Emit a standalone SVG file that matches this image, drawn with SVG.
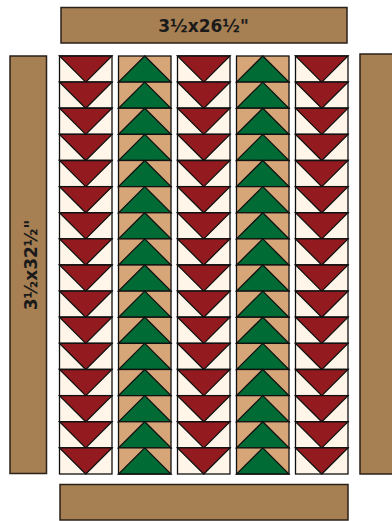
<svg xmlns="http://www.w3.org/2000/svg" xmlns:xlink="http://www.w3.org/1999/xlink" width="392" height="521" viewBox="0 0 392 521">
<style>
.bar{fill:#A67F53;stroke:#2a2118;stroke-width:1.5}
.cell{stroke:#111;stroke-width:1.3;stroke-linejoin:miter}
.cream{fill:#FFF5E8}
.tan{fill:#D6A679}
.red{fill:#931B1F}
.green{fill:#016B36}
.lbl{font-family:"DejaVu Sans","Liberation Sans",Arial,sans-serif;font-weight:bold;font-size:17px;fill:#1a1a1a}
</style>
<defs>
<g id="r">
<rect class="cell cream" x="0" y="0" width="52.5" height="26.125"/>
<polygon class="cell red" points="0,0 52.5,0 26.25,26.125"/>
</g>
<g id="g">
<rect class="cell tan" x="0" y="0" width="52.5" height="26.125"/>
<polygon class="cell green" points="0,26.125 52.5,26.125 26.25,0"/>
</g>
</defs>
<g id="top-border"><rect class="bar" x="61" y="7.5" width="286" height="35.5"/><text class="lbl" x="203.5" y="32" text-anchor="middle">3½x26½"</text></g>
<g id="left-border"><rect class="bar" x="10" y="56" width="36.5" height="417.5"/><text class="lbl" transform="translate(36.5,265) rotate(-90)" text-anchor="middle">3½x32½"</text></g>
<g id="right-border"><rect class="bar" x="360" y="54" width="40" height="420"/></g>
<g id="bottom-border"><rect class="bar" x="60" y="484.5" width="288" height="35.5"/></g>
<g id="col1">
<use href="#r" x="59.5" y="56"/><use href="#r" x="59.5" y="82.125"/><use href="#r" x="59.5" y="108.25"/><use href="#r" x="59.5" y="134.375"/><use href="#r" x="59.5" y="160.5"/><use href="#r" x="59.5" y="186.625"/><use href="#r" x="59.5" y="212.75"/><use href="#r" x="59.5" y="238.875"/><use href="#r" x="59.5" y="265"/><use href="#r" x="59.5" y="291.125"/><use href="#r" x="59.5" y="317.25"/><use href="#r" x="59.5" y="343.375"/><use href="#r" x="59.5" y="369.5"/><use href="#r" x="59.5" y="395.625"/><use href="#r" x="59.5" y="421.75"/><use href="#r" x="59.5" y="447.875"/>
</g>
<g id="col2">
<use href="#g" x="118.5" y="56"/><use href="#g" x="118.5" y="82.125"/><use href="#g" x="118.5" y="108.25"/><use href="#g" x="118.5" y="134.375"/><use href="#g" x="118.5" y="160.5"/><use href="#g" x="118.5" y="186.625"/><use href="#g" x="118.5" y="212.75"/><use href="#g" x="118.5" y="238.875"/><use href="#g" x="118.5" y="265"/><use href="#g" x="118.5" y="291.125"/><use href="#g" x="118.5" y="317.25"/><use href="#g" x="118.5" y="343.375"/><use href="#g" x="118.5" y="369.5"/><use href="#g" x="118.5" y="395.625"/><use href="#g" x="118.5" y="421.75"/><use href="#g" x="118.5" y="447.875"/>
</g>
<g id="col3">
<use href="#r" x="177.5" y="56"/><use href="#r" x="177.5" y="82.125"/><use href="#r" x="177.5" y="108.25"/><use href="#r" x="177.5" y="134.375"/><use href="#r" x="177.5" y="160.5"/><use href="#r" x="177.5" y="186.625"/><use href="#r" x="177.5" y="212.75"/><use href="#r" x="177.5" y="238.875"/><use href="#r" x="177.5" y="265"/><use href="#r" x="177.5" y="291.125"/><use href="#r" x="177.5" y="317.25"/><use href="#r" x="177.5" y="343.375"/><use href="#r" x="177.5" y="369.5"/><use href="#r" x="177.5" y="395.625"/><use href="#r" x="177.5" y="421.75"/><use href="#r" x="177.5" y="447.875"/>
</g>
<g id="col4">
<use href="#g" x="236.5" y="56"/><use href="#g" x="236.5" y="82.125"/><use href="#g" x="236.5" y="108.25"/><use href="#g" x="236.5" y="134.375"/><use href="#g" x="236.5" y="160.5"/><use href="#g" x="236.5" y="186.625"/><use href="#g" x="236.5" y="212.75"/><use href="#g" x="236.5" y="238.875"/><use href="#g" x="236.5" y="265"/><use href="#g" x="236.5" y="291.125"/><use href="#g" x="236.5" y="317.25"/><use href="#g" x="236.5" y="343.375"/><use href="#g" x="236.5" y="369.5"/><use href="#g" x="236.5" y="395.625"/><use href="#g" x="236.5" y="421.75"/><use href="#g" x="236.5" y="447.875"/>
</g>
<g id="col5">
<use href="#r" x="295.5" y="56"/><use href="#r" x="295.5" y="82.125"/><use href="#r" x="295.5" y="108.25"/><use href="#r" x="295.5" y="134.375"/><use href="#r" x="295.5" y="160.5"/><use href="#r" x="295.5" y="186.625"/><use href="#r" x="295.5" y="212.75"/><use href="#r" x="295.5" y="238.875"/><use href="#r" x="295.5" y="265"/><use href="#r" x="295.5" y="291.125"/><use href="#r" x="295.5" y="317.25"/><use href="#r" x="295.5" y="343.375"/><use href="#r" x="295.5" y="369.5"/><use href="#r" x="295.5" y="395.625"/><use href="#r" x="295.5" y="421.75"/><use href="#r" x="295.5" y="447.875"/>
</g>
</svg>
